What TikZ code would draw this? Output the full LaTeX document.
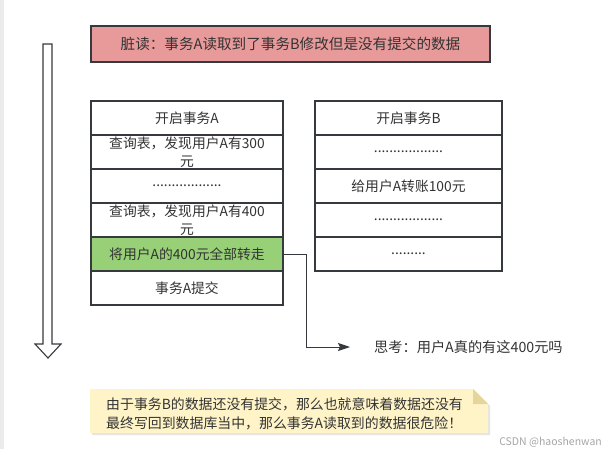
\documentclass[tikz,border=0pt]{standalone}
\usepackage{fontspec}
\newfontfamily\cjk{Noto Sans CJK SC}
\usetikzlibrary{arrows.meta}
\definecolor{strokec}{HTML}{36393D}
\definecolor{txt}{HTML}{333333}
\definecolor{pinkc}{HTML}{E8999A}
\definecolor{greenc}{HTML}{97D077}
\definecolor{notec}{HTML}{FFF4C8}
\definecolor{foldc}{HTML}{E3D59C}
\tikzset{
  base/.style={font=\cjk\fontsize{13.8}{18}\selectfont, text=txt},
  rowA/.style={base, draw=strokec, line width=1.1pt, fill=white, minimum width=192pt, minimum height=34pt, inner sep=0pt, align=center},
  rowB/.style={rowA, minimum width=187pt},
  titlebox/.style={base, font=\cjk\fontsize{14.6}{18}\selectfont, draw=strokec, line width=1.6pt, fill=pinkc, minimum width=399pt, minimum height=36pt, inner sep=0pt},
  conn/.style={draw=strokec, line width=1pt, -{Stealth[length=12pt,width=8pt,inset=2pt]}},
  plain/.style={base, font=\cjk\fontsize{14.2}{19}\selectfont, inner sep=0pt},
  notetext/.style={base, font=\cjk\fontsize{13.9}{19}\selectfont, inner sep=0pt},
}
\begin{document}
\begin{tikzpicture}[x=1pt,y=-1pt]
\useasboundingbox (0,0) rectangle (612,449);
\fill[white] (0,0) rectangle (612,449);
\fill[black!8] (0,0) rectangle (4,449);
% title
\node[titlebox] (title) at (290.5,44) {脏读：事务A读取到了事务B修改但是没有提交的数据};
% hollow time arrow
\draw[strokec, line width=1.1pt, line join=miter, fill=white]
  (43,44) -- (52,44) -- (52,344) -- (61,344) -- (48,358) -- (35,344) -- (43,344) -- cycle;
% table A
\node[rowA] (a1) at (187,118) {开启事务A};
\node[rowA] (a2) at (187,152) {查询表，发现用户A有300\\元};
\node[rowA] (a3) at (187,186) {..................};
\node[rowA] (a4) at (187,220) {查询表，发现用户A有400\\元};
\node[rowA, fill=greenc] (a5) at (187,254) {将用户A的400元全部转走};
\node[rowA] (a6) at (187,288) {事务A提交};
% table B
\node[rowB] (b1) at (408.5,118) {开启事务B};
\node[rowB] (b2) at (408.5,152) {..................};
\node[rowB] (b3) at (408.5,186) {给用户A转账100元};
\node[rowB] (b4) at (408.5,220) {..................};
\node[rowB] (b5) at (408.5,254) {.........};
% thinking
\node[plain, anchor=west] (think) at (374,347) {思考：用户A真的有这400元吗};
\coordinate (tip) at (350,347);
\draw[conn] (a5.east) -- ++(23,0) |- (tip);
% note
\fill[black!10] (92,391) -- (475,391) -- (490,406) -- (490,435) -- (92,435) -- cycle;
\fill[notec] (90,389) -- (473,389) -- (488,404) -- (488,433) -- (90,433) -- cycle;
\fill[foldc] (473,389) -- (488,404) -- (473,404) -- cycle;
\node[notetext, anchor=west, align=left] (note) at (106,413.5) {由于事务B的数据还没有提交，那么也就意味着数据还没有\\最终写回到数据库当中，那么事务A读取到的数据很危险！};
% watermark
\node[font=\cjk\fontsize{10.5}{12}\selectfont, text=black!35, anchor=east, inner sep=0pt] (wm) at (602,442) {CSDN @haoshenwan};
\end{tikzpicture}
\end{document}
